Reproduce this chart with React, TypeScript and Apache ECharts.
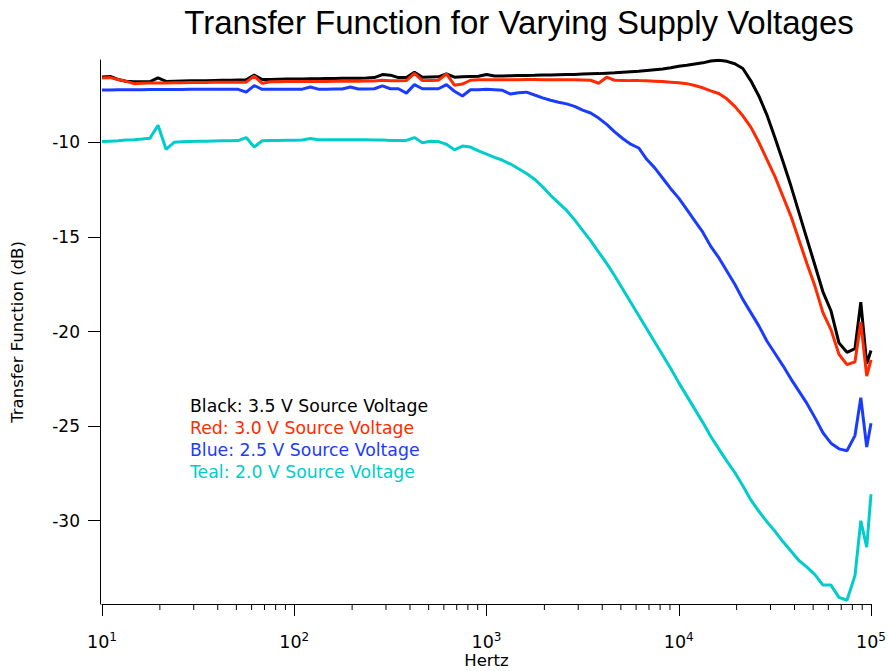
import React, { useEffect, useRef } from 'react';
import * as echarts from 'echarts';

// Frequencies (Hz), shared by all four traces
const freqHz = [
  10, 11.01, 12.12, 13.34, 14.68, 16.16, 17.78, 19.57, 21.54, 23.71, 26.1, 28.73, 31.62, 34.81, 38.31, 42.17, 46.42, 51.09, 56.23, 61.9, 68.13, 74.99, 82.54, 90.85,
  100, 110.1, 121.2, 133.4, 146.8, 161.6, 177.8, 195.7, 215.4, 237.1, 261, 287.3, 316.2, 348.1, 383.1, 421.7, 464.2, 510.9, 562.3, 619, 681.3, 749.9, 825.4, 908.5,
  1000, 1101, 1212, 1334, 1468, 1616, 1778, 1957, 2154, 2371, 2610, 2873, 3162, 3481, 3831, 4217, 4642, 5109, 5623, 6190, 6813, 7499, 8254, 9085,
  10000, 11007, 12115, 13335, 14678, 16156, 17783, 19573, 21544, 23714, 26102, 28730, 31623, 34807, 38312, 42170, 46416, 51090, 56234, 61897, 68129, 74989, 82540,
  88500, 95000, 100000,
];

// Transfer function (dB), Black: 3.5 V
const black35 = [
  -6.55, -6.52, -6.68, -6.77, -6.8, -6.8, -6.79, -6.6, -6.78, -6.77, -6.76, -6.75, -6.75, -6.74, -6.73, -6.72, -6.72, -6.71, -6.7, -6.45, -6.68, -6.68, -6.67, -6.66,
  -6.66, -6.65, -6.64, -6.64, -6.63, -6.63, -6.62, -6.61, -6.61, -6.6, -6.58, -6.42, -6.45, -6.58, -6.57, -6.3, -6.56, -6.55, -6.54, -6.38, -6.56, -6.53, -6.52, -6.51,
  -6.42, -6.5, -6.49, -6.48, -6.47, -6.47, -6.46, -6.44, -6.44, -6.43, -6.42, -6.41, -6.39, -6.38, -6.37, -6.35, -6.33, -6.3, -6.27, -6.24, -6.2, -6.16, -6.12, -6.06,
  -5.98, -5.93, -5.86, -5.8, -5.7, -5.66, -5.72, -5.85, -6.1, -6.75, -7.55, -8.55, -9.75, -11.0, -12.3, -13.7, -15.1, -16.5, -17.9, -18.9, -20.6, -21.1, -20.9,
  -18.45, -21.7, -21.0,
];

// Red: 3.0 V
const red30 = [
  -6.6, -6.58, -6.68, -6.78, -6.9, -6.88, -6.87, -6.86, -6.86, -6.85, -6.85, -6.84, -6.84, -6.84, -6.83, -6.83, -6.83, -6.82, -6.82, -6.5, -6.88, -6.8, -6.8, -6.79,
  -6.79, -6.79, -6.78, -6.78, -6.78, -6.77, -6.77, -6.77, -6.77, -6.76, -6.76, -6.72, -6.75, -6.75, -6.74, -6.36, -6.74, -6.73, -6.72, -6.38, -6.98, -6.92, -6.72, -6.7,
  -6.7, -6.7, -6.69, -6.69, -6.69, -6.68, -6.68, -6.69, -6.69, -6.7, -6.7, -6.7, -6.71, -6.72, -6.88, -6.56, -6.72, -6.73, -6.74, -6.74, -6.75, -6.77, -6.79, -6.82,
  -6.85, -6.9, -7.0, -7.12, -7.28, -7.42, -7.7, -8.1, -8.6, -9.2, -10.0, -10.9, -11.8, -12.85, -13.9, -15.15, -16.4, -17.6, -19.0, -19.9, -21.2, -21.75, -21.6,
  -19.5, -22.35, -21.5,
];

// Blue: 2.5 V
const blue25 = [
  -7.23, -7.23, -7.22, -7.22, -7.22, -7.22, -7.21, -7.21, -7.21, -7.21, -7.21, -7.2, -7.2, -7.2, -7.2, -7.2, -7.2, -7.2, -7.35, -7.0, -7.2, -7.2, -7.2, -7.19,
  -7.19, -7.19, -7.08, -7.19, -7.19, -7.18, -7.18, -7.08, -7.18, -7.18, -7.17, -7.02, -7.17, -7.17, -7.4, -6.95, -7.17, -7.17, -7.17, -6.95, -7.3, -7.55, -7.22, -7.22,
  -7.2, -7.22, -7.25, -7.45, -7.38, -7.35, -7.5, -7.65, -7.78, -7.88, -7.97, -8.1, -8.3, -8.45, -8.72, -9.05, -9.45, -9.8, -10.1, -10.3, -10.9, -11.35, -11.9, -12.45,
  -12.95, -13.55, -14.15, -14.75, -15.5, -16.1, -16.8, -17.5, -18.3, -19.0, -19.7, -20.5, -21.15, -21.8, -22.5, -23.15, -23.8, -24.55, -25.35, -25.9, -26.2, -26.3, -25.5,
  -23.5, -26.1, -24.85,
];

// Teal: 2.0 V
const teal20 = [
  -9.96, -9.94, -9.92, -9.88, -9.86, -9.83, -9.78, -9.1, -10.37, -10.0, -9.97, -9.96, -9.95, -9.94, -9.93, -9.92, -9.92, -9.91, -9.75, -10.25, -9.92, -9.9, -9.9, -9.89,
  -9.89, -9.88, -9.8, -9.87, -9.87, -9.87, -9.86, -9.86, -9.86, -9.87, -9.88, -9.88, -9.9, -9.9, -9.9, -9.75, -10.02, -9.94, -9.96, -10.1, -10.4, -10.2, -10.25, -10.45,
  -10.62, -10.8, -10.95, -11.15, -11.4, -11.65, -11.95, -12.35, -12.8, -13.2, -13.6, -14.1, -14.65, -15.2, -15.8, -16.4, -17.05, -17.75, -18.45, -19.15, -19.85, -20.55, -21.25, -21.95,
  -22.7, -23.4, -24.1, -24.8, -25.55, -26.2, -26.85, -27.45, -28.15, -28.9, -29.5, -30.05, -30.55, -31.1, -31.6, -32.1, -32.45, -32.85, -33.4, -33.4, -34.05, -34.2, -32.9,
  -30.0, -31.4, -28.6,
];

const yTickValues = [-30, -25, -20, -15, -10];
const minorTickFreqs = [
  20, 30, 40, 50, 60, 70, 80, 90,
  200, 300, 400, 500, 600, 700, 800, 900,
  2000, 3000, 4000, 5000, 6000, 7000, 8000, 9000,
  20000, 30000, 40000, 50000, 60000, 70000, 80000, 90000,
];

const seriesNames = ['Black: 3.5 V Source Voltage', 'Red: 3.0 V Source Voltage', 'Blue: 2.5 V Source Voltage', 'Teal: 2.0 V Source Voltage'];
const seriesColors = ['#000000', '#ff2a00', '#1a3cff', '#00cccc'];
const seriesData = [black35, red30, blue25, teal20];

const titleText = 'Transfer Function for Varying Supply Voltages';
const xAxisTitle = 'Hertz';
const yAxisTitle = 'Transfer Function (dB)';

const Y_MIN = -34.4;
const Y_MAX = -5.65;
const FONT = '"DejaVu Sans", Verdana, sans-serif';

export default function App() {
  const ref = useRef<HTMLDivElement>(null);
  useEffect(() => {
    if (!ref.current) return;
    const chart = echarts.init(ref.current, undefined, { renderer: 'svg' });
    const lineSeries = seriesData.map((vals, si) => ({
      name: seriesNames[si],
      type: 'line',
      showSymbol: false,
      symbol: 'none',
      data: freqHz.map((f, i) => [f, vals[i]]),
      lineStyle: { color: seriesColors[si], width: 3 },
      itemStyle: { color: seriesColors[si] },
      z: 3 + si,
    }));
    const option: any = {
      animation: false,
      backgroundColor: '#ffffff',
      grid: { left: 102, right: 18, top: 60, bottom: 67, containLabel: false, outerBoundsMode: 'none' },
      xAxis: {
        type: 'log',
        logBase: 10,
        min: 10,
        max: 100000,
        name: xAxisTitle,
        nameLocation: 'middle',
        nameGap: 48,
        nameMoveOverlap: false,
        nameTextStyle: { fontFamily: FONT, fontSize: 16.5, color: '#000' },
        axisLine: { show: true, onZero: false, lineStyle: { color: '#000', width: 1 } },
        axisTick: { show: true, inside: false, length: 12, lineStyle: { color: '#000', width: 1 } },
        minorTick: { show: false },
        splitLine: { show: false },
        axisLabel: {
          margin: 27,
          formatter: (v: number) => '{b|10}{s|' + Math.round(Math.log10(v)) + '}',
          rich: {
            b: { fontFamily: FONT, fontSize: 17.5, color: '#000', lineHeight: 22 },
            s: { fontFamily: FONT, fontSize: 12, color: '#000', verticalAlign: 'top', lineHeight: 22 },
          },
        },
      },
      yAxis: {
        type: 'value',
        min: Y_MIN,
        max: Y_MAX,
        offset: 2,
        name: yAxisTitle,
        nameLocation: 'middle',
        nameGap: 74,
        nameMoveOverlap: false,
        nameTextStyle: { fontFamily: FONT, fontSize: 16.5, color: '#000' },
        axisLine: { show: true, lineStyle: { color: '#000', width: 1 } },
        axisTick: { show: true, inside: false, length: 12, customValues: yTickValues, lineStyle: { color: '#000', width: 1 } },
        axisLabel: { customValues: yTickValues, margin: 20, fontFamily: FONT, fontSize: 17, color: '#000' },
        splitLine: { show: false },
      },
      series: [
        ...lineSeries,
        {
          type: 'custom',
          coordinateSystem: 'cartesian2d',
          clip: false,
          silent: true,
          data: minorTickFreqs.map((f) => [f, Y_MIN]),
          renderItem: (params: any, api: any) => {
            const p = api.coord([api.value(0), api.value(1)]);
            return {
              type: 'line',
              shape: { x1: p[0], y1: p[1], x2: p[0], y2: p[1] + 6 },
              style: { stroke: '#000', lineWidth: 1 },
            };
          },
          z: 10,
        },
      ],
      graphic: [
        {
          type: 'text',
          x: 519,
          y: 22,
          silent: true,
          style: {
            text: titleText,
            font: '33px "Liberation Sans", Arial, sans-serif',
            fill: '#000',
            textAlign: 'center',
            textVerticalAlign: 'middle',
          },
        },
        ...seriesNames.map((n, i) => ({
          type: 'text',
          x: 190,
          y: 406 + i * 22,
          silent: true,
          style: {
            text: n,
            font: '17.3px "DejaVu Sans", Verdana, sans-serif',
            fill: seriesColors[i],
            textAlign: 'left',
            textVerticalAlign: 'middle',
          },
        })),
      ],
    };
    chart.setOption(option);
    return () => chart.dispose();
  }, []);
  return <div ref={ref} style={{ position: 'fixed', left: 0, top: 0, width: 889, height: 671 }} />;
}
